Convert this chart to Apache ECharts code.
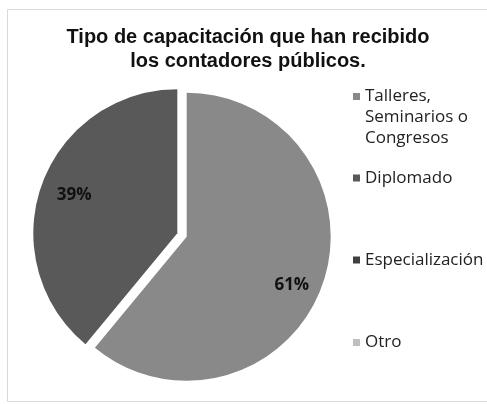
<!DOCTYPE html>
<html><head><meta charset="utf-8">
<script src="https://cdn.jsdelivr.net/npm/echarts@6/dist/echarts.min.js"></script>
<style>html,body{margin:0;padding:0;background:#fff}#c{width:487px;height:404px}</style>
</head><body><div id="c"></div>
<script>
const categories = ['Talleres,\nSeminarios o\nCongresos', 'Diplomado', 'Especialización', 'Otro'];
const values = [61, 39, 0, 0];
const titleText = 'Tipo de capacitación que han recibido\nlos contadores públicos.';

const colors = ['#898989', '#595959', '#404040', '#bfbfbf'];
const legendTops = [44, 167.5, 249.5, 332];
const labelShift = [[-5, 9], [7, 1], [0, 0], [0, 0]];

const chart = echarts.init(document.getElementById('c'), null, {renderer: 'canvas'});

const pieData = categories.map((n, i) => ({
  name: n, value: values[i], selected: values[i] > 0,
  itemStyle: {color: colors[i]}
}));
const labelData = categories.map((n, i) => ({
  name: n, value: values[i], selected: values[i] > 0
}));

const legends = categories.map((n, i) => ({
  data: [n],
  orient: 'vertical',
  left: 353,
  top: legendTops[i],
  padding: 0,
  itemWidth: 7,
  itemHeight: 7,
  icon: 'rect',
  selectedMode: false,
  formatter: name => (i === 0 ? ' \n \n' : '') + name,
  textStyle: {
    fontFamily: 'Open Sans', fontSize: 17, color: '#222', lineHeight: 21
  }
}));

chart.setOption({
  animation: false,
  backgroundColor: '#fff',
  title: {
    text: titleText,
    left: 248,
    top: 25,
    textAlign: 'center',
    padding: 0,
    textStyle: {
      fontFamily: 'Liberation Sans', fontWeight: 'bold', fontSize: 20,
      color: '#111', lineHeight: 24
    }
  },
  legend: legends,
  graphic: [{
    type: 'rect', silent: true,
    shape: {x: 7.5, y: 9.5, width: 500, height: 392},
    style: {fill: 'none', stroke: '#d9d9d9', lineWidth: 1}
  }],
  series: [{
    type: 'pie',
    center: [182, 235],
    radius: 144,
    startAngle: 90,
    clockwise: true,
    selectedMode: 'multiple',
    selectedOffset: 5,
    label: {show: false},
    labelLine: {show: false},
    emphasis: {disabled: true},
    itemStyle: {borderWidth: 0},
    data: pieData
  }, {
    type: 'pie',
    center: [182, 235],
    radius: [84, 144],
    startAngle: 90,
    clockwise: true,
    selectedMode: 'multiple',
    selectedOffset: 5,
    silent: true,
    legendHoverLink: false,
    itemStyle: {color: 'rgba(0,0,0,0)', borderWidth: 0},
    emphasis: {disabled: true},
    labelLine: {show: false},
    label: {
      show: true, position: 'inside',
      fontFamily: 'Open Sans', fontWeight: 'bold', fontSize: 17, color: '#111',
      formatter: p => p.value > 0 ? Math.round(p.percent) + '%' : ''
    },
    labelLayout: p => ({dx: labelShift[p.dataIndex][0], dy: labelShift[p.dataIndex][1]}),
    data: labelData
  }]
});
</script></body></html>
